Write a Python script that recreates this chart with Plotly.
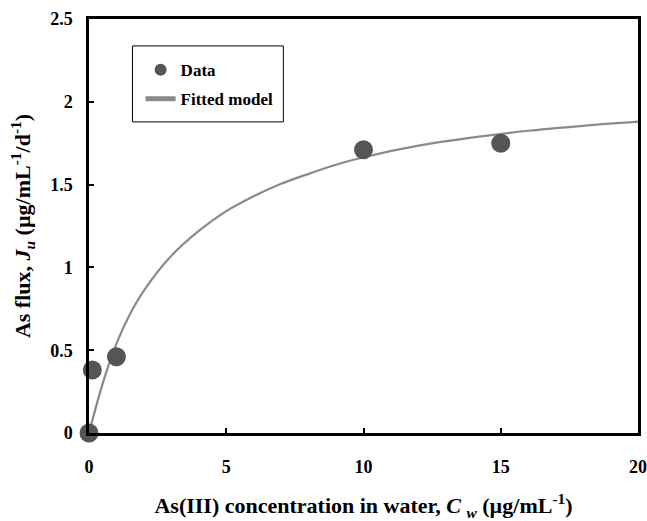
import plotly.graph_objects as go

# Measured data
data_x = [0, 0.12, 1, 10, 15]
data_y = [0, 0.38, 0.46, 1.71, 1.75]

# Fitted model curve
fit_x = [0, 0.5, 1, 1.5, 2, 3, 4, 5, 6, 7, 8, 9, 10, 12, 14, 16, 18, 20]
fit_y = [0, 0.30, 0.54, 0.72, 0.86, 1.07, 1.22, 1.34, 1.43, 1.505, 1.565, 1.62, 1.665, 1.735, 1.785, 1.825, 1.855, 1.88]

x_ticks = [0, 5, 10, 15, 20]
y_ticks = [0, 0.5, 1, 1.5, 2, 2.5]
y_tick_text = ["0", "0.5", "1", "1.5", "2", "2.5"]

font_family = "Liberation Serif"

fig = go.Figure()
fig.add_trace(go.Scatter(
    x=fit_x, y=fit_y, mode="lines", name="<b>Fitted model</b>",
    line=dict(color="#8a8a8a", width=2.2, shape="spline", smoothing=1.0),
    legendgroup="fit", legendrank=2,
))
fig.add_trace(go.Scatter(
    x=data_x, y=data_y, mode="markers", name="<b>Data</b>",
    marker=dict(color="#555555", size=19), cliponaxis=False,
    legendgroup="data", legendrank=1,
))

# legend frame (paper coordinates)
fig.add_shape(type="rect", xref="paper", yref="paper",
              x0=0.0792, x1=0.354, y0=0.7515, y1=0.935,
              line=dict(color="black", width=1), fillcolor="white", layer="below")

fig.update_layout(
    width=647, height=521,
    margin=dict(l=88.5, r=9, t=19, b=87.5),
    paper_bgcolor="white", plot_bgcolor="white",
    font=dict(family=font_family, color="black"),
    showlegend=True,
    legend=dict(
        x=0.094, y=0.92, xanchor="left", yanchor="top",
        bgcolor="rgba(0,0,0,0)", borderwidth=0,
        font=dict(size=17, family=font_family),
        traceorder="grouped", tracegroupgap=4,
        itemsizing="constant", itemwidth=30,
    ),
    xaxis=dict(
        range=[0, 20], tickvals=x_ticks, ticktext=[f"<b>{v}</b>" for v in x_ticks],
        ticks="inside", ticklen=5, tickwidth=1.5, tickcolor="black",
        showline=True, linecolor="black", linewidth=2.5, mirror=True,
        showgrid=False, zeroline=False, automargin=False,
        tickfont=dict(size=18, family=font_family),
        ticklabelstandoff=16,
        title=dict(
            text="<b>As(III) concentration in water, <i>C</i> <sub><i>w</i></sub> (µg/mL<sup>-1</sup>)</b>",
            font=dict(size=22, family=font_family), standoff=23,
        ),
    ),
    yaxis=dict(
        range=[0, 2.5], tickvals=y_ticks, ticktext=[f"<b>{t}</b>" for t in y_tick_text],
        ticks="inside", ticklen=5, tickwidth=1.5, tickcolor="black",
        showline=True, linecolor="black", linewidth=2.5, mirror=True,
        showgrid=False, zeroline=False, automargin=False,
        tickfont=dict(size=18, family=font_family),
        ticklabelstandoff=10,
        title=dict(
            text="<b>As flux, <i>J</i><sub><i>u</i></sub> (µg/mL<sup>-1</sup>/d<sup>-1</sup>)</b>",
            font=dict(size=22, family=font_family), standoff=14,
        ),
    ),
)

fig.write_html("out.html")
